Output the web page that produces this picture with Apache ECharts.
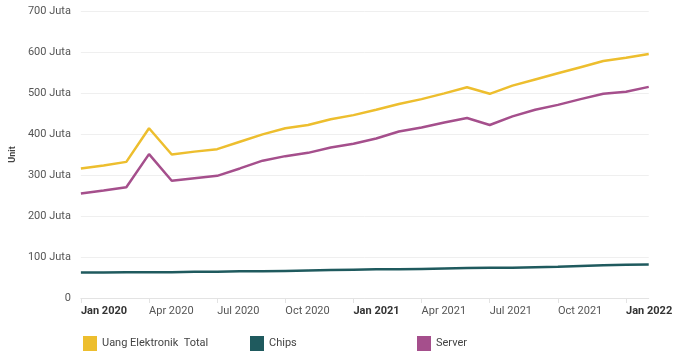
<!DOCTYPE html>
<html>
<head>
<meta charset="utf-8">
<script src="https://cdn.jsdelivr.net/npm/echarts@6/dist/echarts.min.js"></script>
<style>
html,body{margin:0;padding:0;background:#fff;}
#chart{width:675px;height:353px;}
</style>
</head>
<body>
<div id="chart"></div>
<script>
var months = ['Jan 2020','Feb 2020','Mar 2020','Apr 2020','May 2020','Jun 2020','Jul 2020','Aug 2020','Sep 2020','Oct 2020','Nov 2020','Dec 2020','Jan 2021','Feb 2021','Mar 2021','Apr 2021','May 2021','Jun 2021','Jul 2021','Aug 2021','Sep 2021','Oct 2021','Nov 2021','Dec 2021','Jan 2022','Feb 2022'];
var totalValues = [316,323,332,414,350,357,363,381,399,414,422,436,446,459,473,485,499,514,498,518,533,548,563,578,586,595];
var serverValues = [255,262,270,351,286,292,298,316,335,346,354,367,376,389,406,416,428,439,422,443,459,471,485,498,503,515];
var chipsValues = [62,62,63,63,63,64,64,65,65,66,67,68,69,70,70,71,72,73,74,74,75,76,78,80,81,82];
var seriesNames = ['Uang Elektronik  Total','Chips','Server'];
var yTickLabels = {0:'0',100:'100 Juta',200:'200 Juta',300:'300 Juta',400:'400 Juta',500:'500 Juta',600:'600 Juta',700:'700 Juta'};
var yAxisName = 'Unit';

var colors = ['#EDBE2E','#1F5A5E','#A54F8C'];
var chart = echarts.init(document.getElementById('chart'), null, {renderer:'canvas'});
function lbl(i){ return i % 3 === 0; }
function legendAt(name, left){
  return {
    data:[name], left:left, top:336, icon:'rect', itemWidth:14, itemHeight:15,
    itemGap:0, padding:0,
    textStyle:{fontFamily:'Roboto', fontSize:11, color:'#444'}
  };
}
chart.setOption({
  animation:false,
  color:colors,
  textStyle:{fontFamily:'Roboto'},
  grid:{left:76, right:21, top:11, bottom:55, containLabel:false},
  legend:[legendAt(seriesNames[0],83), legendAt(seriesNames[1],250), legendAt(seriesNames[2],417)],
  xAxis:{
    type:'category', data:months, boundaryGap:false,
    axisLine:{lineStyle:{color:'#e3e3e3', width:1}},
    axisTick:{show:true, interval:function(i){return lbl(i);}, length:5, lineStyle:{color:'#e3e3e3'}},
    axisLabel:{
      interval:function(i){return lbl(i);},
      align:'left', margin:8,
      formatter:function(v){ return v.indexOf('Jan') === 0 ? '{b|'+v+'}' : '{n|'+v+'}'; },
      rich:{
        b:{fontFamily:'Roboto', fontSize:11, fontWeight:'bold', color:'#333'},
        n:{fontFamily:'Roboto', fontSize:11, color:'#555'}
      }
    },
    splitLine:{show:false}
  },
  yAxis:{
    type:'value', min:0, max:700, interval:100,
    name:yAxisName, nameLocation:'middle', nameGap:62,
    nameTextStyle:{fontFamily:'Roboto', fontSize:9, fontWeight:'bold', color:'#444'},
    axisLine:{show:false}, axisTick:{show:false},
    axisLabel:{fontFamily:'Roboto', fontSize:11, color:'#555', margin:10,
      formatter:function(v){ return yTickLabels[v]; }},
    splitLine:{lineStyle:{color:'#efefef', width:1}}
  },
  series:[
    {name:seriesNames[0], type:'line', data:totalValues, symbol:'none', lineStyle:{width:2.5, color:colors[0]}},
    {name:seriesNames[1], type:'line', data:chipsValues, symbol:'none', lineStyle:{width:2.5, color:colors[1]}},
    {name:seriesNames[2], type:'line', data:serverValues, symbol:'none', lineStyle:{width:2.5, color:colors[2]}}
  ]
});
</script>
</body>
</html>
